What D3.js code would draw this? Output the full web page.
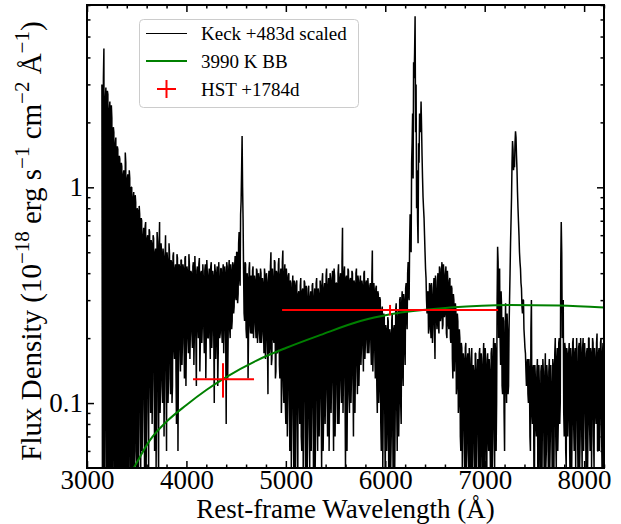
<!DOCTYPE html>
<html>
<head>
<meta charset="utf-8">
<script src="https://cdn.jsdelivr.net/npm/d3@7"></script>
<style>
body { margin: 0; background: #fff; }
text { font-family: "Liberation Serif", "Times New Roman", serif; }
</style>
</head>
<body>
<svg id="chart" width="621" height="524"></svg>
<script>
// Keck spectrum, every 10 A starting at 3150 A
var specStart = 3150;
var specStep = 10;
var specFlux = [
  3.0, 0.03, 4.4, 0.02, 2.9, 0.04, 2.7, 0.03, 2.5, 0.02,
  2.1, 0.04, 1.8, 0.03, 1.7, 0.05, 1.5, 0.02, 1.35, 0.04,
  1.25, 0.03, 1.2, 0.04, 1.3, 0.02, 1.15, 0.05, 1.1, 0.03,
  1.0, 0.04, 0.95, 0.06, 0.85, 0.03, 0.78, 0.08, 0.75, 0.04,
  0.7, 0.1, 0.65, 0.04, 0.69, 0.12, 0.6, 0.05, 0.62, 0.09,
  0.55, 0.13, 0.58, 0.06, 0.52, 0.11, 0.56, 0.04, 0.69, 0.12,
  0.5, 0.1, 0.48, 0.14, 0.6, 0.06, 0.46, 0.13, 0.49, 0.11,
  0.45, 0.12, 0.5, 0.16, 0.44, 0.08, 0.47, 0.17, 0.43, 0.14,
  0.46, 0.19, 0.42, 0.13, 0.48, 0.2, 0.41, 0.17, 0.44, 0.22,
  0.4, 0.18, 0.45, 0.21, 0.39, 0.12, 0.43, 0.2, 0.47, 0.19,
  0.41, 0.23, 0.38, 0.17, 0.44, 0.21, 0.4, 0.2, 0.42, 0.16,
  0.45, 0.22, 0.39, 0.1, 0.41, 0.2, 0.43, 0.17, 0.38, 0.21,
  0.42, 0.19, 0.44, 0.23, 0.4, 0.08, 0.43, 0.21, 0.46, 0.2,
  0.41, 0.24, 0.44, 0.28, 0.48, 0.3, 0.5, 0.32, 0.62, 0.35,
  0.86, 1.73, 0.7, 0.26, 0.45, 0.22, 0.4, 0.13, 0.42, 0.23,
  0.39, 0.21, 0.43, 0.24, 0.37, 0.2, 0.41, 0.22, 0.38, 0.19,
  0.4, 0.21, 0.36, 0.17, 0.39, 0.2, 0.37, 0.11, 0.41, 0.18,
  0.5, 0.16, 0.38, 0.19, 0.45, 0.14, 0.4, 0.18, 0.47, 0.13,
  0.42, 0.12, 0.51, 0.1, 0.44, 0.08, 0.38, 0.11, 0.4, 0.06,
  0.36, 0.09, 0.39, 0.05, 0.35, 0.1, 0.37, 0.04, 0.33, 0.08,
  0.38, 0.06, 0.34, 0.11, 0.36, 0.04, 0.31, 0.09, 0.35, 0.05,
  0.33, 0.1, 0.36, 0.03, 0.34, 0.08, 0.38, 0.06, 0.32, 0.11,
  0.35, 0.05, 0.4, 0.09, 0.36, 0.12, 0.42, 0.07, 0.38, 0.1,
  0.37, 0.13, 0.41, 0.06, 0.39, 0.11, 0.36, 0.08, 0.44, 0.12,
  0.4, 0.1, 0.65, 0.14, 0.43, 0.05, 0.39, 0.12, 0.41, 0.09,
  0.38, 0.13, 0.4, 0.07, 0.36, 0.15, 0.42, 0.11, 0.37, 0.16,
  0.39, 0.18, 0.35, 0.14, 0.41, 0.19, 0.37, 0.17, 0.34, 0.2,
  0.36, 0.15, 0.51, 0.18, 0.33, 0.13, 0.35, 0.09, 0.32, 0.12,
  0.3, 0.06, 0.28, 0.1, 0.25, 0.04, 0.22, 0.08, 0.24, 0.05,
  0.21, 0.07, 0.26, 0.04, 0.23, 0.09, 0.29, 0.06, 0.27, 0.1,
  0.31, 0.08, 0.33, 0.12, 0.3, 0.15, 0.36, 0.22, 0.45, 0.3,
  0.75, 0.5, 1.6, 1.1, 3.2, 6.2, 3.0, 1.2, 0.55, 1.3,
  2.0, 2.5, 1.4, 0.9, 0.72, 0.5, 0.38, 0.26, 0.33, 0.22,
  0.35, 0.2, 0.31, 0.24, 0.38, 0.16, 0.33, 0.22, 0.4, 0.21,
  0.42, 0.25, 0.45, 0.23, 0.4, 0.26, 0.43, 0.2, 0.36, 0.22,
  0.38, 0.19, 0.34, 0.13, 0.3, 0.17, 0.27, 0.12, 0.24, 0.1,
  0.2, 0.06, 0.18, 0.08, 0.16, 0.04, 0.19, 0.07, 0.17, 0.05,
  0.15, 0.03, 0.18, 0.06, 0.14, 0.04, 0.17, 0.08, 0.16, 0.03,
  0.18, 0.05, 0.15, 0.04, 0.19, 0.07, 0.16, 0.03, 0.17, 0.06,
  0.14, 0.04, 0.18, 0.07, 0.2, 0.05, 0.17, 0.1, 0.53, 0.2,
  0.42, 0.15, 0.28, 0.11, 0.24, 0.06, 0.29, 0.1, 0.22, 0.12,
  0.3, 0.55, 0.9, 1.64, 1.2, 1.24, 1.82, 1.4, 0.95, 0.69,
  0.5, 0.42, 0.34, 0.26, 0.3, 0.2, 0.17, 0.12, 0.16, 0.1,
  0.14, 0.06, 0.3, 0.08, 0.15, 0.04, 0.13, 0.07, 0.16, 0.05,
  0.12, 0.03, 0.15, 0.08, 0.14, 0.04, 0.17, 0.06, 0.13, 0.05,
  0.16, 0.07, 0.12, 0.04, 0.15, 0.09, 0.2, 0.05, 0.18, 0.08,
  0.2, 0.1, 0.69, 0.2, 0.3, 0.07, 0.18, 0.05, 0.17, 0.09,
  0.19, 0.04, 0.16, 0.08, 0.2, 0.06, 0.18, 0.1, 0.15, 0.04,
  0.19, 0.07, 0.17, 0.05, 0.2, 0.09, 0.16, 0.04, 0.18, 0.08,
  0.2, 0.06, 0.17, 0.1, 0.19, 0.05, 0.16, 0.08, 0.21, 0.06,
  0.18, 0.09, 0.2, 0.05, 0.19, 0.07
];
// the pixels in between, every 10 A starting at 3155 A
var specStart2 = 3155;
var specFlux2 = [
  0.05, 3.2, 0.03, 2.6, 0.1, 2.8, 0.04, 2.3, 0.02, 2.4,
  0.03, 1.9, 0.06, 1.6, 0.02, 1.55, 0.04, 1.4, 0.03, 1.3,
  0.05, 1.15, 0.02, 1.45, 0.04, 1.1, 0.03, 1.2, 0.06, 1.0,
  0.03, 0.9, 0.05, 0.92, 0.07, 0.8, 0.04, 0.82, 0.1, 0.72,
  0.06, 0.6, 0.11, 0.66, 0.05, 0.58, 0.09, 0.64, 0.14, 0.57,
  0.08, 0.6, 0.15, 0.5, 0.05, 0.62, 0.12, 0.53, 0.09, 0.55,
  0.13, 0.52, 0.07, 0.47, 0.15, 0.5, 0.1, 0.55, 0.16, 0.46,
  0.1, 0.48, 0.18, 0.42, 0.14, 0.49, 0.06, 0.44, 0.18, 0.46,
  0.15, 0.44, 0.21, 0.47, 0.12, 0.43, 0.2, 0.49, 0.16, 0.41,
  0.21, 0.43, 0.15, 0.48, 0.2, 0.41, 0.23, 0.44, 0.14, 0.4,
  0.19, 0.44, 0.22, 0.41, 0.13, 0.46, 0.2, 0.39, 0.22, 0.43,
  0.18, 0.41, 0.21, 0.44, 0.16, 0.4, 0.12, 0.45, 0.2, 0.42,
  0.22, 0.4, 0.17, 0.43, 0.2, 0.45, 0.13, 0.41, 0.22, 0.44,
  0.22, 0.45, 0.26, 0.43, 0.31, 0.5, 0.29, 0.55, 0.38, 0.75,
  1.2, 1.0, 0.4, 0.24, 0.44, 0.2, 0.38, 0.22, 0.45, 0.21,
  0.22, 0.41, 0.2, 0.39, 0.23, 0.42, 0.19, 0.4, 0.21, 0.42,
  0.19, 0.38, 0.22, 0.42, 0.16, 0.4, 0.19, 0.36, 0.17, 0.43,
  0.15, 0.42, 0.2, 0.46, 0.13, 0.41, 0.17, 0.44, 0.15, 0.39,
  0.09, 0.45, 0.13, 0.4, 0.1, 0.42, 0.07, 0.39, 0.12, 0.37,
  0.05, 0.34, 0.1, 0.37, 0.04, 0.36, 0.08, 0.32, 0.11, 0.35,
  0.07, 0.33, 0.04, 0.37, 0.1, 0.35, 0.05, 0.34, 0.08, 0.31,
  0.06, 0.35, 0.09, 0.31, 0.05, 0.36, 0.12, 0.34, 0.07, 0.37,
  0.1, 0.37, 0.06, 0.34, 0.08, 0.39, 0.11, 0.35, 0.06, 0.4,
  0.09, 0.38, 0.12, 0.42, 0.07, 0.36, 0.13, 0.4, 0.08, 0.38,
  0.13, 0.45, 0.09, 0.4, 0.12, 0.38, 0.06, 0.42, 0.11, 0.37,
  0.1, 0.41, 0.14, 0.37, 0.09, 0.4, 0.15, 0.39, 0.12, 0.36,
  0.15, 0.37, 0.19, 0.4, 0.16, 0.36, 0.2, 0.38, 0.17, 0.35,
  0.19, 0.38, 0.14, 0.36, 0.17, 0.34, 0.12, 0.33, 0.1, 0.31,
  0.08, 0.27, 0.05, 0.26, 0.09, 0.23, 0.06, 0.25, 0.04, 0.22,
  0.05, 0.24, 0.08, 0.22, 0.05, 0.27, 0.1, 0.25, 0.07, 0.3,
  0.1, 0.29, 0.14, 0.32, 0.18, 0.34, 0.25, 0.4, 0.32, 0.55,
  0.6, 1.3, 2.2, 3.8, 4.2, 1.8, 0.8, 0.7, 1.6, 2.2,
  1.8, 1.9, 1.1, 0.8, 0.6, 0.42, 0.3, 0.32, 0.21, 0.36,
  0.23, 0.36, 0.19, 0.34, 0.22, 0.39, 0.25, 0.37, 0.23, 0.43,
  0.24, 0.4, 0.22, 0.44, 0.25, 0.39, 0.21, 0.41, 0.23, 0.37,
  0.2, 0.35, 0.16, 0.32, 0.14, 0.29, 0.11, 0.26, 0.09, 0.22,
  0.07, 0.19, 0.05, 0.17, 0.07, 0.18, 0.04, 0.16, 0.06, 0.18,
  0.05, 0.16, 0.04, 0.15, 0.07, 0.17, 0.05, 0.14, 0.06, 0.17,
  0.04, 0.17, 0.06, 0.16, 0.03, 0.18, 0.05, 0.15, 0.07, 0.16,
  0.06, 0.17, 0.04, 0.16, 0.08, 0.19, 0.06, 0.3, 0.45, 0.35,
  0.2, 0.33, 0.12, 0.25, 0.09, 0.2, 0.13, 0.26, 0.11, 0.22,
  0.4, 0.7, 1.3, 1.5, 1.3, 1.6, 1.7, 1.2, 0.8, 0.6,
  0.45, 0.36, 0.28, 0.3, 0.22, 0.18, 0.14, 0.15, 0.11, 0.16,
  0.07, 0.22, 0.09, 0.14, 0.05, 0.15, 0.08, 0.14, 0.04, 0.15,
  0.06, 0.14, 0.04, 0.16, 0.07, 0.13, 0.05, 0.15, 0.08, 0.14,
  0.05, 0.15, 0.08, 0.16, 0.04, 0.17, 0.07, 0.16, 0.06, 0.19,
  0.08, 0.45, 0.5, 0.25, 0.09, 0.19, 0.06, 0.18, 0.07, 0.17,
  0.06, 0.18, 0.05, 0.19, 0.08, 0.17, 0.05, 0.2, 0.07, 0.18,
  0.05, 0.2, 0.08, 0.18, 0.06, 0.19, 0.09, 0.17, 0.05, 0.2,
  0.08, 0.18, 0.05, 0.2, 0.07, 0.18, 0.09, 0.19, 0.06, 0.17,
  0.06, 0.19, 0.08, 0.17, 0.05
];

// 3990 K blackbody
var bbWave = [3400, 3470, 3630, 3800, 4000, 4200, 4400, 4700, 5000, 5350, 5750, 6050, 6650, 7250, 7750, 8200];
var bbFlux = [0.044, 0.05, 0.067, 0.082, 0.098, 0.115, 0.132, 0.157, 0.18, 0.207, 0.24, 0.258, 0.277, 0.285, 0.283, 0.277];

// HST points with error bars
var hstWave = [4368, 6048];
var hstFlux = [0.129, 0.27];
var hstWaveLo = [4066, 4962];
var hstWaveHi = [4680, 7135];
var hstFluxLo = [0.106, 0.255];
var hstFluxHi = [0.153, 0.285];

var xMajor = [3000, 4000, 5000, 6000, 7000, 8000];
var yMajor = [0.1, 1];
var yMajorLabels = ["0.1", "1"];
var yMinor = [0.06, 0.07, 0.08, 0.09, 0.2, 0.3, 0.4, 0.5, 0.6, 0.7, 0.8, 0.9, 2, 3, 4, 5, 6, 7];
var legendNames = ["Keck +483d scaled", "3990 K BB", "HST +1784d"];

var pL = 87, pR = 604, pT = 5, pB = 468;
var svg = d3.select("#chart");

var x = d3.scaleLinear().domain([3000, 8200]).range([pL, pR]);
var y = d3.scaleLog().domain([0.05, 7]).range([pB, pT]);
var xMinor = d3.range(3000, 8201, 200).filter(function(d){ return d % 1000 != 0; });

svg.append("clipPath").attr("id", "plotclip").append("rect")
  .attr("x", pL).attr("y", pT).attr("width", pR - pL).attr("height", pB - pT);

var plot = svg.append("g").attr("clip-path", "url(#plotclip)");

var spec = specFlux.map(function(d, i){ return [specStart + i * specStep, d]; })
  .concat(specFlux2.map(function(d, i){ return [specStart2 + i * specStep, d]; }))
  .sort(function(a, b){ return a[0] - b[0]; });
plot.append("path").datum(spec)
  .attr("d", d3.line().x(function(d){ return x(d[0]); }).y(function(d){ return y(d[1]); }))
  .attr("fill", "none").attr("stroke", "black").attr("stroke-width", 1.5)
  .attr("stroke-linejoin", "bevel");

var bb = bbWave.map(function(d, i){ return [d, bbFlux[i]]; });
plot.append("path").datum(bb)
  .attr("d", d3.line().curve(d3.curveMonotoneX).x(function(d){ return x(d[0]); }).y(function(d){ return y(d[1]); }))
  .attr("fill", "none").attr("stroke", "green").attr("stroke-width", 2);

hstWave.forEach(function(w, i){
  plot.append("line").attr("x1", x(hstWaveLo[i])).attr("x2", x(hstWaveHi[i]))
    .attr("y1", y(hstFlux[i])).attr("y2", y(hstFlux[i]))
    .attr("stroke", "red").attr("stroke-width", 2);
  plot.append("line").attr("x1", x(w)).attr("x2", x(w))
    .attr("y1", y(hstFluxLo[i])).attr("y2", y(hstFluxHi[i]))
    .attr("stroke", "red").attr("stroke-width", 2);
});

function styleAxis(g){
  g.select(".domain").remove();
  g.selectAll("line").attr("stroke-width", 1.5);
  g.selectAll("text").attr("font-size", 27).attr("font-family", "Liberation Serif").attr("fill", "black");
}

svg.append("g").attr("transform", "translate(0," + pB + ")")
  .call(d3.axisBottom(x).tickValues(xMajor).tickFormat(d3.format("d")).tickSize(-7).tickPadding(2))
  .call(styleAxis);
svg.append("g").attr("transform", "translate(0," + pB + ")")
  .call(d3.axisBottom(x).tickValues(xMinor).tickFormat("").tickSize(-3.5)).call(styleAxis);
svg.append("g").attr("transform", "translate(0," + pT + ")")
  .call(d3.axisTop(x).tickValues(xMajor).tickFormat("").tickSize(-7)).call(styleAxis);
svg.append("g").attr("transform", "translate(0," + pT + ")")
  .call(d3.axisTop(x).tickValues(xMinor).tickFormat("").tickSize(-3.5)).call(styleAxis);

svg.append("g").attr("transform", "translate(" + pL + ",0)")
  .call(d3.axisLeft(y).tickValues(yMajor).tickFormat(function(d, i){ return yMajorLabels[i]; }).tickSize(-7).tickPadding(4))
  .call(styleAxis);
svg.append("g").attr("transform", "translate(" + pL + ",0)")
  .call(d3.axisLeft(y).tickValues(yMinor).tickFormat("").tickSize(-3.5)).call(styleAxis);
svg.append("g").attr("transform", "translate(" + pR + ",0)")
  .call(d3.axisRight(y).tickValues(yMajor).tickFormat("").tickSize(-7)).call(styleAxis);
svg.append("g").attr("transform", "translate(" + pR + ",0)")
  .call(d3.axisRight(y).tickValues(yMinor).tickFormat("").tickSize(-3.5)).call(styleAxis);

svg.append("rect").attr("x", pL).attr("y", pT).attr("width", pR - pL).attr("height", pB - pT)
  .attr("fill", "none").attr("stroke", "black").attr("stroke-width", 2);

// axis titles
svg.append("text").attr("x", (pL + pR) / 2).attr("y", 518).attr("text-anchor", "middle")
  .attr("font-size", 27).text("Rest-frame Wavelength (Å)");

var ylab = svg.append("text").attr("transform", "translate(41,241) rotate(-90)")
  .attr("text-anchor", "middle").attr("font-size", 29);
var parts = [["Flux Density (10", false], ["−18", true], [" erg s", false], ["−1", true],
  [" cm", false], ["−2", true], [" Å", false], ["−1", true], [")", false]];
parts.forEach(function(p, i){
  var t = ylab.append("tspan").text(p[0]);
  if (p[1]) t.attr("font-size", 21).attr("dy", -12);
  else if (i > 0) t.attr("dy", 12);
});

// legend
var lg = svg.append("g");
lg.append("rect").attr("x", 139.5).attr("y", 19.5).attr("width", 219).attr("height", 88).attr("rx", 4)
  .attr("fill", "white").attr("fill-opacity", 0.8).attr("stroke", "#cccccc").attr("stroke-width", 1);
var rowY = [33.5, 61, 89];
lg.append("line").attr("x1", 146).attr("x2", 187).attr("y1", rowY[0]).attr("y2", rowY[0])
  .attr("stroke", "black").attr("stroke-width", 1);
lg.append("line").attr("x1", 146).attr("x2", 187).attr("y1", rowY[1]).attr("y2", rowY[1])
  .attr("stroke", "green").attr("stroke-width", 2);
lg.append("line").attr("x1", 157).attr("x2", 176).attr("y1", rowY[2]).attr("y2", rowY[2])
  .attr("stroke", "red").attr("stroke-width", 2);
lg.append("line").attr("x1", 166.5).attr("x2", 166.5).attr("y1", rowY[2] - 9).attr("y2", rowY[2] + 9)
  .attr("stroke", "red").attr("stroke-width", 2);
legendNames.forEach(function(n, i){
  lg.append("text").attr("x", 201).attr("y", rowY[i]).attr("dy", "0.35em")
    .attr("font-size", 19).text(n);
});
</script>
</body>
</html>
